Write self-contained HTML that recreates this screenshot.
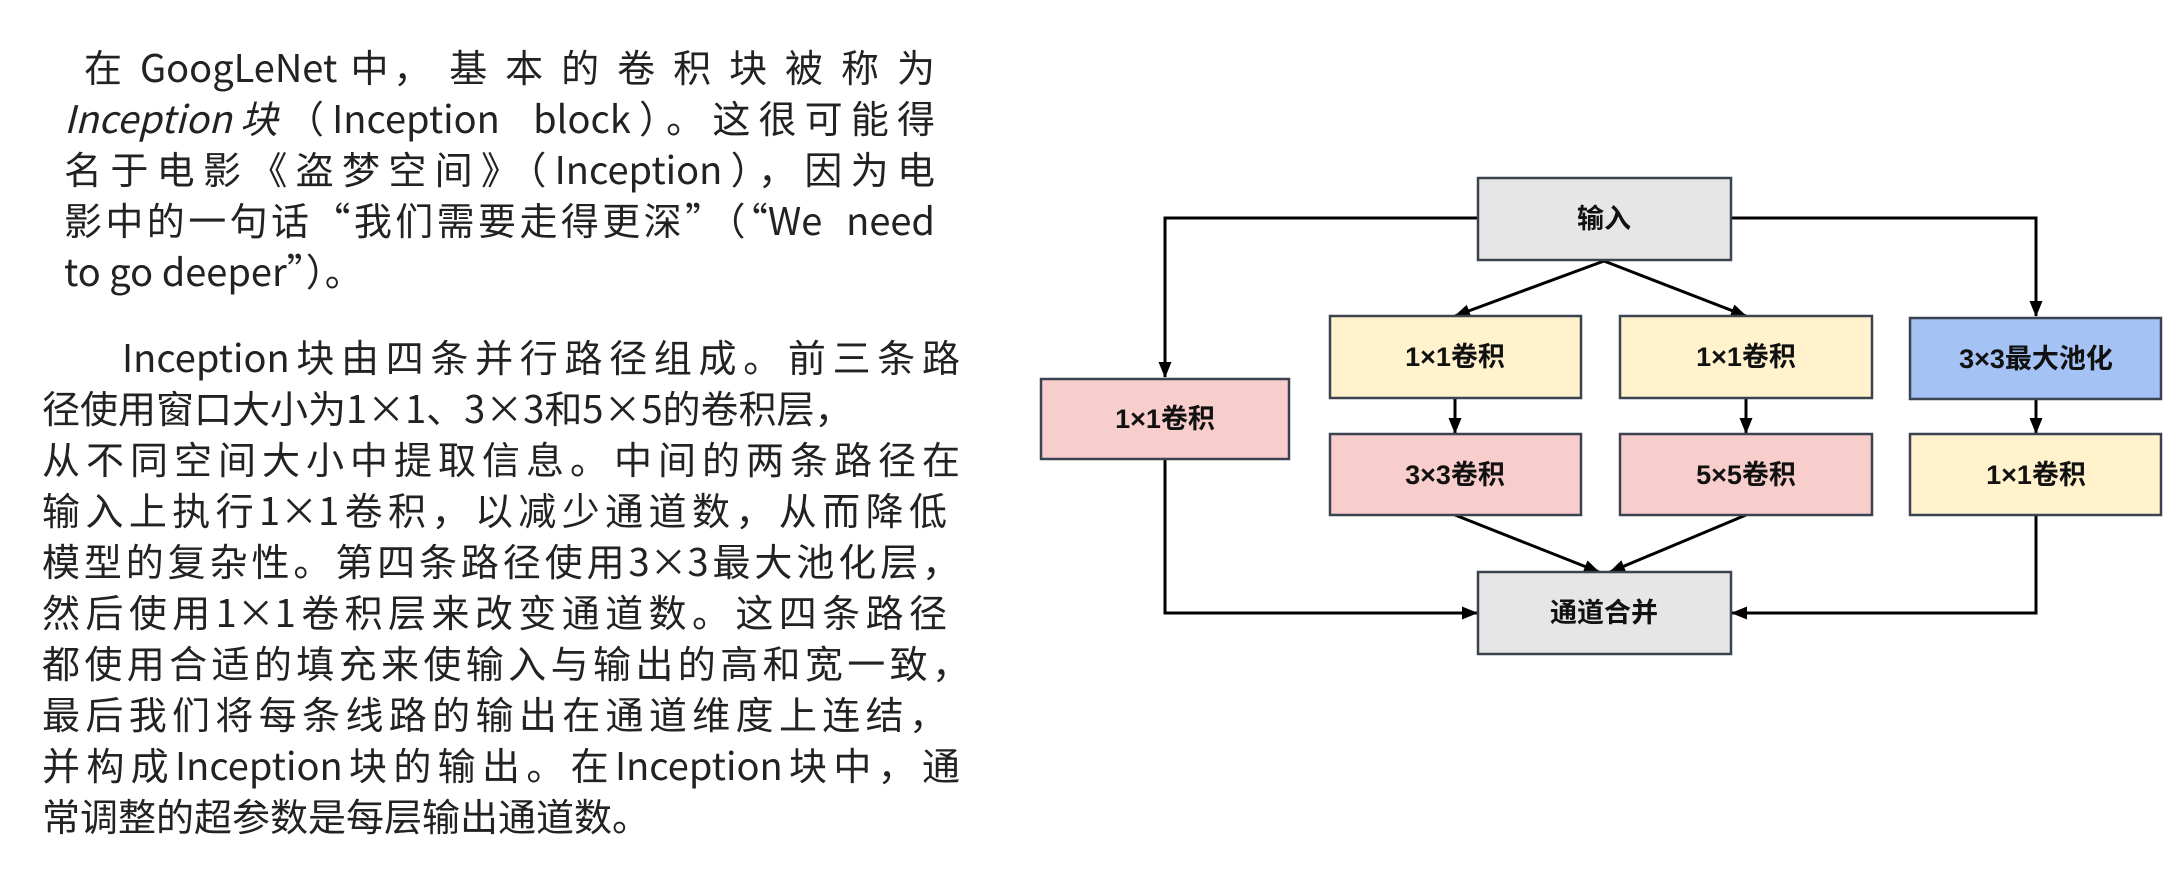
<!DOCTYPE html>
<html><head><meta charset="utf-8"><style>
body{margin:0;width:2182px;height:885px;background:#fff;overflow:hidden;position:relative;font-family:"Noto Sans CJK SC","Liberation Sans",sans-serif;}
.l{position:absolute;white-space:nowrap;font-size:38px;line-height:51px;color:#222;text-align:justify;text-align-last:justify;}
.n{text-align-last:left;}
</style></head><body>
<div class="l" style="left:84px;width:851px;top:40px">在 GoogLeNet 中， 基 本 的 卷 积 块 被 称 为</div>
<div class="l" style="left:64px;width:871px;top:91px"><i>Inception块</i>（Inception&nbsp; block）。这很可能得</div>
<div class="l" style="left:64px;width:871px;top:142px">名于电影《盗梦空间》（Inception），因为电</div>
<div class="l" style="left:64px;width:871px;top:193px">影中的一句话“我们需要走得更深”（“We&nbsp; need</div>
<div class="l n" style="left:64px;top:244px">to go deeper”）。</div>

<div class="l" style="left:122px;width:838px;top:330px">Inception块由四条并行路径组成。前三条路</div>
<div class="l n" style="left:42px;top:381px">径使用窗口大小为1×1、3×3和5×5的卷积层，</div>
<div class="l" style="left:42px;width:918px;top:432px">从不同空间大小中提取信息。中间的两条路径在</div>
<div class="l" style="left:42px;width:905px;top:483px">输入上执行1×1卷积，以减少通道数，从而降低</div>
<div class="l" style="left:42px;width:918px;top:534px">模型的复杂性。第四条路径使用3×3最大池化层，</div>
<div class="l" style="left:42px;width:905px;top:585px">然后使用1×1卷积层来改变通道数。这四条路径</div>
<div class="l" style="left:42px;width:928px;top:636px">都使用合适的填充来使输入与输出的高和宽一致，</div>
<div class="l" style="left:42px;width:905px;top:687px">最后我们将每条线路的输出在通道维度上连结，</div>
<div class="l" style="left:42px;width:918px;top:738px">并构成Inception块的输出。在Inception块中，通</div>
<div class="l n" style="left:42px;top:789px">常调整的超参数是每层输出通道数。</div>

<svg width="2182" height="885" style="position:absolute;left:0;top:0">
<defs>
<marker id="b" markerWidth="16" markerHeight="16" refX="15" refY="8" orient="auto" markerUnits="userSpaceOnUse"><path d="M0,1.5 L16,8 L0,14.5 z" fill="#000"/></marker></defs>
<g stroke="#000" stroke-width="3" fill="none">
<polyline points="1478,218 1165,218 1165,377" marker-end="url(#b)"/>
<polyline points="1731,218 2036,218 2036,316" marker-end="url(#b)"/>
<line x1="1604" y1="261" x2="1455" y2="316" marker-end="url(#b)"/>
<line x1="1604" y1="261" x2="1746" y2="316" marker-end="url(#b)"/>
<line x1="1455" y1="398" x2="1455" y2="433" marker-end="url(#b)"/>
<line x1="1746" y1="398" x2="1746" y2="433" marker-end="url(#b)"/>
<line x1="2036" y1="399" x2="2036" y2="433" marker-end="url(#b)"/>
<line x1="1455" y1="515" x2="1599" y2="572" marker-end="url(#b)"/>
<line x1="1746" y1="515" x2="1610" y2="572" marker-end="url(#b)"/>
<polyline points="1165,459 1165,613 1477,613" marker-end="url(#b)"/>
<polyline points="2036,515 2036,613 1732,613" marker-end="url(#b)"/>
</g>
<g stroke="#3b4350" stroke-width="2.5">
<rect x="1478" y="178" width="253" height="82" fill="#e6e6e6"/>
<rect x="1041" y="379" width="248" height="80" fill="#f8cecc"/>
<rect x="1330" y="316" width="251" height="82" fill="#fff2cc"/>
<rect x="1620" y="316" width="252" height="82" fill="#fff2cc"/>
<rect x="1910" y="318" width="251" height="81" fill="#a4c2f4"/>
<rect x="1330" y="434" width="251" height="81" fill="#f8cecc"/>
<rect x="1620" y="434" width="252" height="81" fill="#f8cecc"/>
<rect x="1910" y="434" width="251" height="81" fill="#fff2cc"/>
<rect x="1478" y="572" width="253" height="82" fill="#e6e6e6"/>
</g>
<g font-size="27" font-weight="bold" fill="#111" font-family="Liberation Sans,Noto Sans CJK SC,sans-serif" text-anchor="middle">
<text x="1604" y="228">输入</text>
<text x="1165" y="428">1×1卷积</text>
<text x="1455" y="366">1×1卷积</text>
<text x="1746" y="366">1×1卷积</text>
<text x="2036" y="368">3×3最大池化</text>
<text x="1455" y="484">3×3卷积</text>
<text x="1746" y="484">5×5卷积</text>
<text x="2036" y="484">1×1卷积</text>
<text x="1604" y="622">通道合并</text>
</g>
</svg>
</body></html>
